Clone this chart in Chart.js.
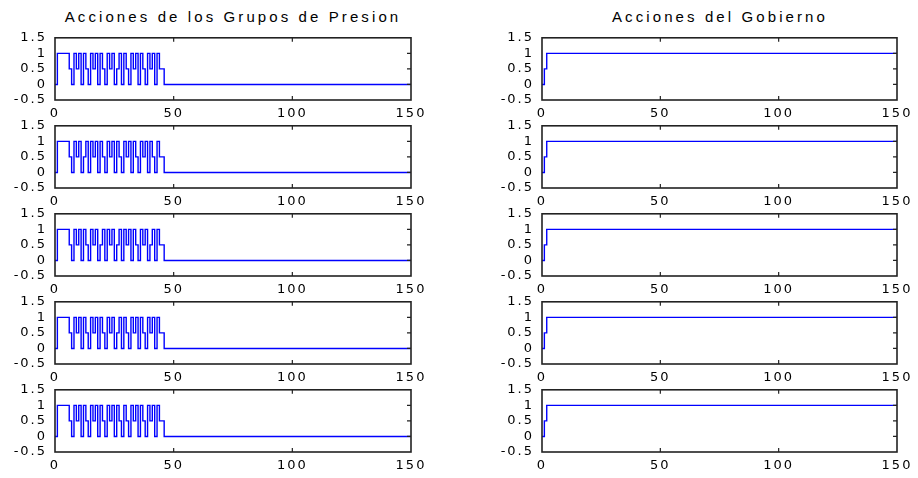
<!DOCTYPE html>
<html>
<head>
<meta charset="utf-8">
<script src="https://cdn.jsdelivr.net/npm/chart.js@4.4.1/dist/chart.umd.min.js"></script>
<style>
  body { margin: 0; background: #fff; }
  #wrap { position: relative; width: 918px; height: 478px; overflow: hidden; }
  #wrap canvas { position: absolute; }
  .ttl { position: absolute; top: 8px; font: 15px "Liberation Sans", Arial, sans-serif;
         letter-spacing: 3.1px; color: #000; white-space: nowrap; transform: translateX(-50%); }
</style>
</head>
<body>
<div id="wrap">
  <div class="ttl" style="left:233px">Acciones de los Grupos de Presion</div>
  <div class="ttl" style="left:720px">Acciones del Gobierno</div>
</div>
<script>
// values at x = 0, 1, 2, ... then held flat to the end of the run
var lastX = 150
var xTicks = [0, 50, 100, 150]
var xTickLabels = ['0', '50', '100', '150']
var yTicks = [-0.5, 0, 0.5, 1, 1.5]
var yTickLabels = ['-0.5', '0', '0.5', '1', '1.5']

var presion1 = [0, 1, 1, 1, 1, 1, 0.5, 0, 1, 0.5, 1, 0, 1, 0.5, 0, 1, 0.5, 1, 0, 1, 0.5, 0, 1, 0.5, 1, 0, 0.5, 1, 0, 1, 0.5, 0, 1, 0.5, 1, 0, 1, 0.5, 0, 1, 0.5, 1, 0, 1, 0.5, 0.5, 0]
var presion2 = [0, 1, 1, 1, 1, 1, 0.5, 0, 1, 0.5, 1, 0, 0.5, 1, 0, 1, 0.5, 1, 0, 1, 0.5, 0, 1, 0.5, 1, 0, 1, 0.5, 0, 1, 0.5, 1, 0, 1, 0.5, 0, 1, 0.5, 1, 0, 1, 0.5, 0, 1, 0.5, 0.5, 0]
var presion3 = [0, 1, 1, 1, 1, 1, 0.5, 0, 1, 0.5, 1, 0, 1, 0.5, 0, 1, 0.5, 1, 0, 0.5, 1, 0, 1, 0.5, 1, 0, 0.5, 1, 0, 1, 0.5, 1, 0, 1, 0.5, 0, 1, 0.5, 1, 0, 0.5, 1, 0, 1, 0.5, 0.5, 0]
var presion4 = [0, 1, 1, 1, 1, 1, 0.5, 0, 1, 0.5, 1, 0, 1, 0.5, 0, 1, 0.5, 1, 0, 1, 0.5, 0, 1, 0.5, 1, 0, 0.5, 1, 0, 1, 0.5, 0, 1, 0.5, 1, 0, 1, 0.5, 0, 1, 0.5, 1, 0, 1, 0.5, 0.5, 0]
var presion5 = [0, 1, 1, 1, 1, 1, 0.5, 0, 1, 0.5, 1, 0, 1, 0.5, 0, 1, 0.5, 1, 0, 1, 0.5, 0, 1, 0.5, 1, 0, 1, 0.5, 0, 1, 0.5, 0, 1, 0.5, 1, 0, 1, 0.5, 0, 1, 0.5, 1, 0, 1, 0.5, 0.5, 0]
var gobierno = [0, 0.5, 1]

var leftSeries = [presion1, presion2, presion3, presion4, presion5]
var rightSeries = [gobierno, gobierno, gobierno, gobierno, gobierno]

function toPoints(vals) {
    var pts = vals.map(function (v, i) { return { x: i, y: v } })
    pts.push({ x: lastX, y: vals[vals.length - 1] })
    return pts
}

var boxPlugin = {
    id: 'box',
    beforeDraw: function (chart) {
        chart.ctx.letterSpacing = '2px'
    },
    afterDraw: function (chart) {
        var ctx = chart.ctx, a = chart.chartArea
        var xs = chart.scales.x, ys = chart.scales.y
        ctx.save()
        ctx.strokeStyle = '#222'
        ctx.lineWidth = 1.6
        ctx.strokeRect(a.left, a.top, a.right - a.left, a.bottom - a.top)
        ctx.lineWidth = 1.2
        ctx.beginPath()
        xTicks.slice(1, -1).forEach(function (v) {
            var p = xs.getPixelForValue(v)
            ctx.moveTo(p, a.bottom); ctx.lineTo(p, a.bottom - 4)
            ctx.moveTo(p, a.top); ctx.lineTo(p, a.top + 4)
        })
        yTicks.slice(1, -1).forEach(function (v) {
            var p = ys.getPixelForValue(v)
            ctx.moveTo(a.right, p); ctx.lineTo(a.right - 4, p)
        })
        ctx.stroke()
        ctx.restore()
    }
}

var tickFont = { family: '"DejaVu Sans", sans-serif', size: 13 }

function makePlot(plotL, plotR, plotTop, vals) {
    var plotH = 66
    var c = document.createElement('canvas')
    var w = plotR - plotL + 55 + 25
    var h = plotH + 12 + 26
    c.width = w; c.height = h
    c.style.left = (plotL - 55) + 'px'
    c.style.top = (plotTop - 12) + 'px'
    c.style.width = w + 'px'; c.style.height = h + 'px'
    document.getElementById('wrap').appendChild(c)

    new Chart(c, {
        type: 'line',
        data: {
            datasets: [{
                data: toPoints(vals),
                borderColor: '#0000ff',
                borderWidth: 1.4,
                pointRadius: 0,
                stepped: true,
                fill: false
            }]
        },
        options: {
            responsive: false,
            animation: false,
            layout: { padding: { left: 0, top: 12, right: 25, bottom: 0 } },
            plugins: { legend: { display: false }, tooltip: { enabled: false } },
            scales: {
                x: {
                    type: 'linear', min: 0, max: lastX,
                    grid: { display: false, drawTicks: false }, border: { display: false },
                    afterBuildTicks: function (s) { s.ticks = xTicks.map(function (v) { return { value: v } }) },
                    afterFit: function (s) { s.height = 26 },
                    ticks: {
                        color: '#000', font: tickFont, padding: 6, maxRotation: 0, autoSkip: false,
                        callback: function (v, i) { return xTickLabels[i] }
                    }
                },
                y: {
                    min: -0.5, max: 1.5,
                    grid: { display: false, drawTicks: false }, border: { display: false },
                    afterBuildTicks: function (s) { s.ticks = yTicks.map(function (v) { return { value: v } }) },
                    afterFit: function (s) { s.width = 55 },
                    ticks: {
                        color: '#000', font: tickFont, padding: 8, autoSkip: false,
                        callback: function (v, i) { return yTickLabels[i] }
                    }
                }
            }
        },
        plugins: [boxPlugin]
    })
}

for (var r = 0; r < 5; r++) {
    var rowTop = 34 + r * 88
    makePlot(55, 411, rowTop, leftSeries[r])
    makePlot(542, 897, rowTop, rightSeries[r])
}
</script>
</body>
</html>
